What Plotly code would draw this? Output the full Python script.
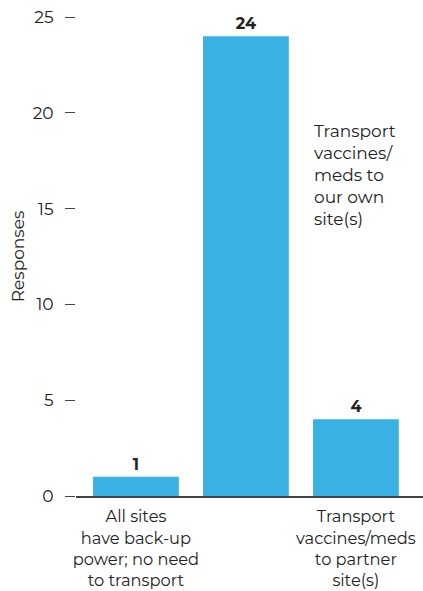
import plotly.graph_objects as go

categories = [
    "All sites<br>have back-up<br>power; no need<br>to transport",
    "Transport<br>vaccines/<br>meds to<br>our own<br>site(s)",
    "Transport<br>vaccines/meds<br>to partner<br>site(s)",
]
values = [1, 24, 4]
y_ticks = [0, 5, 10, 15, 20, 25]

FONT = "Montserrat, Open Sans, sans-serif"
BAR = "#3AB1E3"
TXT = "#222222"

xs = list(range(len(categories)))

fig = go.Figure()
fig.add_trace(go.Bar(
    x=xs, y=values,
    marker=dict(color=BAR, line=dict(width=0)),
    text=[str(v) for v in values],
    textposition="outside",
    textfont=dict(family=FONT, size=16, color=TXT, weight="bold"),
    cliponaxis=False,
    width=0.78,
))

ticktext = [categories[0], "", categories[2]]

fig.add_annotation(
    x=1.6, y=16.75, xref="x", yref="y",
    text=categories[1], showarrow=False,
    xanchor="left", yanchor="middle", align="left",
    font=dict(family=FONT, size=17, color=TXT),
)

fig.update_layout(
    width=423, height=591,
    margin=dict(l=76, r=0, t=17, b=95),
    plot_bgcolor="white", paper_bgcolor="white",
    showlegend=False,
    font=dict(family=FONT, size=17, color=TXT),
    xaxis=dict(
        tickvals=xs, ticktext=ticktext,
        range=[-0.545, 2.61],
        automargin=False,
        showline=True, linecolor="#444444", linewidth=1.5,
        ticks="", showgrid=False, zeroline=False,
        ticklabelstandoff=5,
        tickfont=dict(family=FONT, size=16.3, color=TXT),
    ),
    yaxis=dict(
        range=[0, 25], tickvals=y_ticks,
        automargin=False,
        ticks="outside", ticklen=10, tickcolor="#444444", tickwidth=1,
        ticklabelstandoff=8,
        showgrid=False, zeroline=False, showline=False,
        tickfont=dict(family=FONT, size=17, color=TXT),
        title=dict(text="Responses", font=dict(family=FONT, size=17, color=TXT), standoff=3),
    ),
)

fig.write_html("out.html", config={"displayModeBar": False},
               post_script="document.body.style.margin='0px';")
